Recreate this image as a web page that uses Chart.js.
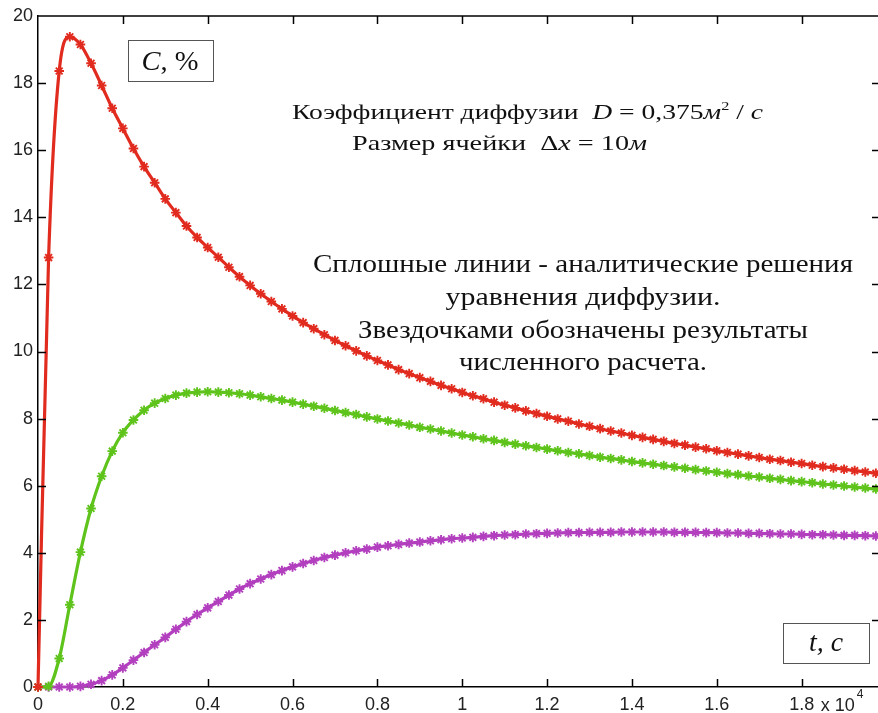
<!DOCTYPE html>
<html>
<head>
<meta charset="utf-8">
<script src="https://cdn.jsdelivr.net/npm/chart.js@4.4.1/dist/chart.umd.min.js"></script>
<style>
html,body{margin:0;padding:0;background:#fff;overflow:hidden}
#wrap{width:878px;height:713px;position:relative}
</style>
</head>
<body>
<div id="wrap"><canvas id="c" width="878" height="713"></canvas></div>
<script>
// time, s
const timeSec = [0,250,500,750,1000,1250,1500,1750,2000,2250,2500,2750,3000,3250,3500,3750,
  4000,4250,4500,4750,5000,5250,5500,5750,6000,6250,6500,6750,7000,7250,7500,7750,
  8000,8250,8500,8750,9000,9250,9500,9750,10000,10250,10500,10750,11000,11250,11500,11750,
  12000,12250,12500,12750,13000,13250,13500,13750,14000,14250,14500,14750,15000,15250,15500,15750,
  16000,16250,16500,16750,17000,17250,17500,17750,18000,18250,18500,18750,19000,19250,19500,19750];
// C, % (red curve)
const cRed = [0,12.8,18.36,19.38,19.15,18.59,17.93,17.25,16.65,16.05,15.51,15.03,14.55,14.14,13.74,13.40,
  13.10,12.81,12.51,12.23,11.97,11.72,11.49,11.27,11.06,10.86,10.68,10.50,10.33,10.17,10.02,9.87,
  9.73,9.60,9.46,9.34,9.22,9.11,8.99,8.89,8.78,8.68,8.59,8.49,8.40,8.32,8.23,8.15,
  8.07,7.99,7.92,7.84,7.77,7.70,7.63,7.57,7.50,7.44,7.38,7.32,7.26,7.21,7.15,7.10,
  7.04,6.99,6.94,6.89,6.84,6.79,6.75,6.70,6.66,6.61,6.57,6.53,6.49,6.45,6.41,6.37];
// C, % (green curve)
const cGreen = [0,0.02,0.85,2.45,4.02,5.32,6.28,7.03,7.58,7.96,8.25,8.46,8.60,8.70,8.76,8.79,
  8.80,8.79,8.77,8.74,8.70,8.65,8.60,8.55,8.49,8.43,8.37,8.31,8.24,8.18,8.12,8.05,
  7.99,7.93,7.87,7.81,7.74,7.69,7.63,7.57,7.51,7.46,7.40,7.35,7.29,7.24,7.19,7.14,
  7.09,7.04,6.99,6.95,6.90,6.85,6.81,6.77,6.72,6.68,6.64,6.60,6.56,6.52,6.48,6.44,
  6.40,6.36,6.33,6.29,6.26,6.22,6.19,6.15,6.12,6.09,6.05,6.02,5.99,5.96,5.93,5.90];
// C, % (purple curve)
const cPurple = [0,0,0,0,0.02,0.08,0.19,0.36,0.57,0.80,1.03,1.26,1.48,1.72,1.95,2.16,
  2.36,2.55,2.74,2.92,3.08,3.22,3.35,3.47,3.58,3.68,3.77,3.86,3.93,4.00,4.06,4.11,
  4.17,4.21,4.25,4.29,4.32,4.36,4.39,4.42,4.44,4.46,4.49,4.51,4.53,4.54,4.56,4.57,
  4.58,4.59,4.60,4.60,4.61,4.61,4.61,4.62,4.62,4.62,4.62,4.62,4.61,4.61,4.61,4.60,
  4.60,4.59,4.59,4.58,4.58,4.57,4.56,4.56,4.55,4.54,4.54,4.53,4.52,4.52,4.51,4.50];

const xTickValues = [0,2000,4000,6000,8000,10000,12000,14000,16000,18000];
const xTickLabels = ['0','0.2','0.4','0.6','0.8','1','1.2','1.4','1.6','1.8'];
const yTickValues = [0,2,4,6,8,10,12,14,16,18,20];
const xExponentLabel = ['x 10', '4'];

const noteParams = [
  [{t:'Коэффициент диффузии'},{t:'  '},{t:'D',i:1},{t:' = '},{t:'0,375'},{t:'м',i:1},{t:'2',s:1},{t:' / '},{t:'c',i:1}],
  [{t:'Размер ячейки'},{t:'  '},{t:'Δ'},{t:'x',i:1},{t:' = '},{t:'10'},{t:'м',i:1}]
];
const noteLegend = [
  'Сплошные линии - аналитические решения',
  'уравнения диффузии.',
  'Звездочками обозначены результаты',
  'численного расчета.'
];

const RED = '#e12b1f', GREEN = '#5ec31b', PURPLE = '#b23fbe';

function pts(arr){ return timeSec.map((t,i)=>({x:t, y:arr[i]})); }
function ds(label, arr, color){
  return {label, data: pts(arr), borderColor: color, backgroundColor: color,
    borderWidth: 3.2, pointStyle: 'star', pointRadius: 4.8, pointBorderWidth: 1.9,
    pointBorderColor: color, pointBackgroundColor: color,
    cubicInterpolationMode: 'monotone', clip: false, fill: false};
}

function segFont(s, size){
  return (s.i ? 'italic ' : '') + (s.s ? Math.round(size*0.6) : size) + 'px "Liberation Serif", "Times New Roman", serif';
}
function drawSegs(ctx, segs, x, baseline, size, targetW, align){
  let total = 0; const w = [];
  segs.forEach(s => { ctx.font = segFont(s, size); const m = ctx.measureText(s.t).width; w.push(m); total += m; });
  const sx = targetW / total;
  const x0 = align === 'center' ? x - targetW/2 : x;
  ctx.save();
  ctx.translate(x0, baseline); ctx.scale(sx, 1);
  ctx.textBaseline = 'alphabetic'; ctx.textAlign = 'left';
  let cx = 0;
  segs.forEach((s, k) => { ctx.font = segFont(s, size); ctx.fillText(s.t, cx, s.s ? -size*0.42 : 0); cx += w[k]; });
  ctx.restore();
}

const decor = {
  id: 'decor',
  afterDraw(chart){
    const ctx = chart.ctx, a = chart.chartArea;
    const xs = chart.scales.x, ys = chart.scales.y;
    ctx.save();
    ctx.strokeStyle = '#000'; ctx.lineWidth = 1.5;
    ctx.beginPath(); ctx.moveTo(a.left, a.top); ctx.lineTo(a.right, a.top); ctx.stroke();
    xTickValues.forEach(v => {
      if (v === 0) return;
      const px = Math.round(xs.getPixelForValue(v)) + 0.5;
      ctx.beginPath(); ctx.moveTo(px, a.bottom); ctx.lineTo(px, a.bottom - 8); ctx.stroke();
      ctx.beginPath(); ctx.moveTo(px, a.top); ctx.lineTo(px, a.top + 8); ctx.stroke();
    });
    yTickValues.forEach(v => {
      if (v === 0 || v === 20) return;
      const py = Math.round(ys.getPixelForValue(v)) + 0.5;
      ctx.beginPath(); ctx.moveTo(a.left, py); ctx.lineTo(a.left + 8, py); ctx.stroke();
      ctx.beginPath(); ctx.moveTo(a.right, py); ctx.lineTo(a.right - 6, py); ctx.stroke();
    });
    ctx.fillStyle = '#222';
    ctx.textBaseline = 'alphabetic'; ctx.textAlign = 'left';
    ctx.font = '18px "Liberation Sans", Arial, sans-serif';
    const px18 = xs.getPixelForValue(18000);
    ctx.fillText(xExponentLabel[0], px18 + 19, 711);
    const wx = ctx.measureText(xExponentLabel[0]).width;
    ctx.font = '12px "Liberation Sans", Arial, sans-serif';
    ctx.fillText(xExponentLabel[1], px18 + 21 + wx, 698);

    ctx.fillStyle = '#fff'; ctx.strokeStyle = '#555'; ctx.lineWidth = 1;
    ctx.fillRect(128, 40, 85, 41); ctx.strokeRect(128.5, 40.5, 85, 41);
    ctx.fillRect(783, 623, 86, 40); ctx.strokeRect(783.5, 623.5, 86, 40);
    ctx.fillStyle = '#111';
    drawSegs(ctx, [{t:'C',i:1},{t:', %'}], 170, 70, 27, 57, 'center');
    drawSegs(ctx, [{t:'t, c',i:1}], 826, 651, 27, 34, 'center');

    drawSegs(ctx, noteParams[0], 292, 119, 22, 471, 'left');
    drawSegs(ctx, noteParams[1], 352, 150, 22, 295, 'left');

    const widths = [540, 275, 450, 248];
    const bases = [272, 305, 338, 370];
    noteLegend.forEach((t, k) => drawSegs(ctx, [{t}], 583, bases[k], 26, widths[k], 'center'));
    ctx.restore();
  }
};

new Chart(document.getElementById('c'), {
  type: 'line',
  data: { datasets: [ ds('red', cRed, RED), ds('green', cGreen, GREEN), ds('purple', cPurple, PURPLE) ] },
  options: {
    responsive: false, animation: false,
    layout: { autoPadding: false, padding: { top: 16, right: 0, left: 0, bottom: 0 } },
    plugins: { legend: { display: false }, tooltip: { enabled: false } },
    scales: {
      x: {
        type: 'linear', min: 0, max: 19800,
        afterBuildTicks: s => { s.ticks = xTickValues.map(v => ({value: v})); },
        afterFit: s => { s.height = 26; },
        ticks: { autoSkip: false, maxRotation: 0, padding: 7, color: '#222',
          font: { family: '"Liberation Sans", Arial, sans-serif', size: 18 },
          callback: v => { const i = xTickValues.indexOf(v); return i >= 0 ? xTickLabels[i] : ''; } },
        grid: { drawOnChartArea: false, drawTicks: false },
        border: { display: true, color: '#000', width: 1.5 }
      },
      y: {
        min: 0, max: 20,
        afterBuildTicks: s => { s.ticks = yTickValues.map(v => ({value: v})); },
        afterFit: s => { s.width = 38; },
        ticks: { autoSkip: false, padding: 5, color: '#222',
          font: { family: '"Liberation Sans", Arial, sans-serif', size: 18 } },
        grid: { drawOnChartArea: false, drawTicks: false },
        border: { display: true, color: '#000', width: 1.5 }
      }
    }
  },
  plugins: [decor]
});
</script>
</body>
</html>
